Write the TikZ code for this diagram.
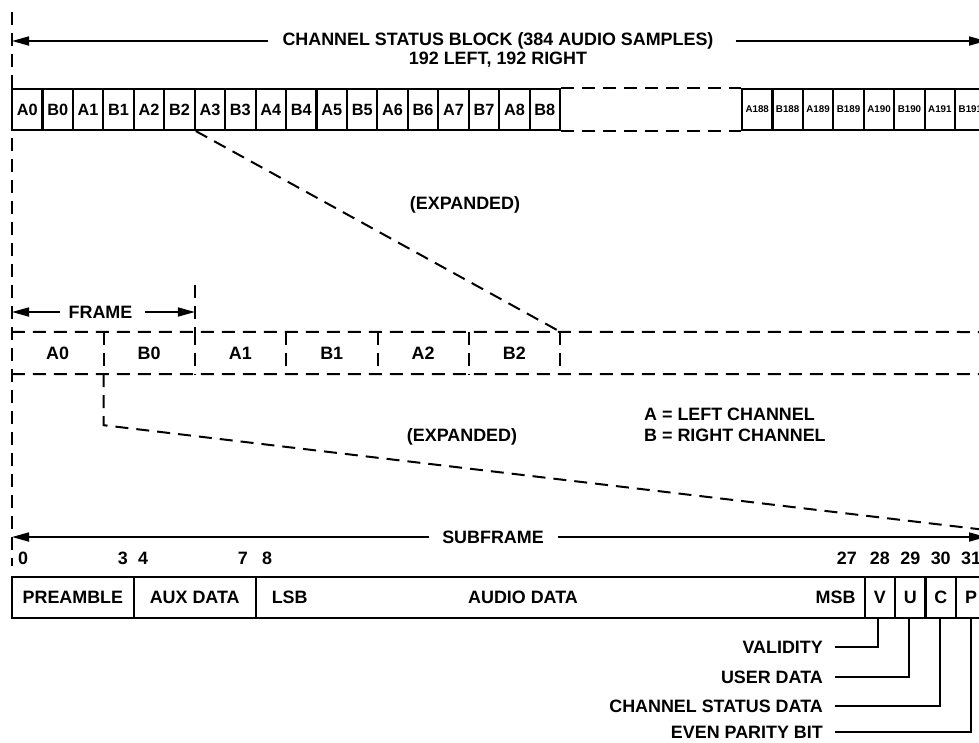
\documentclass[tikz,border=0pt]{standalone}
\usepackage{fontspec}
\setmainfont{Liberation Sans}[BoldFont={Liberation Sans Bold}]
\usetikzlibrary{arrows.meta}
\begin{document}
\begin{tikzpicture}[x=1pt,y=-1pt,
  every node/.style={font=\bfseries\fontsize{17.9}{20}\selectfont, inner sep=0pt},
  topbox/.style={draw, line width=2.1pt, minimum width=30.45pt, minimum height=41pt, font=\bfseries\fontsize{16.3}{18}\selectfont},
  smallbox/.style={topbox, font=\bfseries\fontsize{9.8}{11}\selectfont},
  framebox/.style={minimum width=91.35pt, minimum height=42pt},
  subbox/.style={draw, line width=2.1pt, minimum height=41pt},
  dashline/.style={line width=2pt, dash pattern=on 13pt off 8pt},
  arr/.style={line width=1.7pt, -{Triangle[length=17pt,width=9pt]}},
  lbl/.style={line width=1.7pt}
]
\useasboundingbox (0,0) rectangle (979,742);
\clip (0,0) rectangle (979,742);
\def\u{30.45}

% left dashed line
\coordinate (ltop) at (12,12);
\coordinate (lbot) at (12,566);
\draw[dashline] (ltop) -- (lbot);

% channel status block title
\node (cst) at (498,41) {CHANNEL STATUS BLOCK (384 AUDIO SAMPLES)};
\node (css) at (498,60) {192 LEFT, 192 RIGHT};
\coordinate (csL) at (12,41);
\coordinate (csR) at (986,41);
\draw[arr] ([xshift=-14pt]cst.west) -- (csL);
\draw[arr] ([xshift=22pt]cst.east) -- (csR);

% top row boxes
\foreach \i/\t in {0/A0,1/B0,2/A1,3/B1,4/A2,5/B2,6/A3,7/B3,8/A4,9/B4,10/A5,11/B5,12/A6,13/B6,14/A7,15/B7,16/A8,17/B8}
  \node[topbox] (t\i) at ({12+(\i+0.5)*\u},109.5) {\t};
\foreach \i/\t in {0/A188,1/B188,2/A189,3/B189,4/A190,5/B190,6/A191,7/B191}
  \node[smallbox] (s\i) at ({742+(\i+0.5)*\u},109.5) {\t};
\draw[dashline] (t17.north east) -- (s0.north west);
\draw[dashline] (t17.south east) -- (s0.south west);

% expanded label 1
\node (exp1) at (465,205) {(EXPANDED)};

% frame row
\foreach \i/\t in {0/A0,1/B0,2/A1,3/B1,4/A2,5/B2}
  \node[framebox] (f\i) at ({12+(\i+0.5)*3*\u},353) {\t};
\coordinate (frR1) at (995,332);
\coordinate (frR2) at (995,374);
\draw[dashline] (f0.north west) -- (frR1);
\draw[dashline] (f0.south west) -- (frR2);
\foreach \i in {0,...,5}
  \draw[dashline] (f\i.north east) -- (f\i.south east);

% frame arrow
\node (frm) at (100.5,312) {FRAME};
\coordinate (frmL) at (12,312);
\coordinate (frmR) at (f1.east |- frm);
\coordinate (frmT) at ([yshift=47pt]f1.north east);
\draw[dashline] (frmT) -- (f1.north east);
\draw[arr] ([xshift=-8pt]frm.west) -- (frmL);
\draw[arr] ([xshift=12pt]frm.east) -- (frmR);

% expansion 1
\draw[dashline] (t5.south east) -- (f5.north east);

% expansion 2
\coordinate (e2a) at ([yshift=-51pt]f0.south east);
\coordinate (e2b) at (986,530);
\draw[dashline] (f0.south east) -- (e2a) -- (e2b);
\node (exp2) at (462,437) {(EXPANDED)};

% legend
\node[anchor=west] (legA) at (644,414) {A = LEFT CHANNEL};
\node[anchor=west] (legB) at (644,435) {B = RIGHT CHANNEL};

% subframe arrow
\node (sf) at (493,537) {SUBFRAME};
\coordinate (sfL) at (12,537);
\coordinate (sfR) at (986,537);
\draw[arr] ([xshift=-13pt]sf.west) -- (sfL);
\draw[arr] ([xshift=14pt]sf.east) -- (sfR);

% bit numbers
\node[anchor=west] (n0) at (18,558) {0};
\node[anchor=east] (n3) at (128,558) {3};
\node[anchor=west] (n4) at (138,558) {4};
\node[anchor=east] (n7) at (248,558) {7};
\node[anchor=west] (n8) at (262,558) {8};
\node[anchor=east] (n27) at (857,558) {27};
\node (n28) at ({12+28.5*\u},558) {28};
\node (n29) at ({12+29.5*\u},558) {29};
\node (n30) at ({12+30.5*\u},558) {30};
\node (n31) at ({12+31.5*\u},558) {31};

% subframe boxes
\node[subbox, minimum width=121.8pt] (pre) at ({12+2*\u},597.5) {PREAMBLE};
\node[subbox, minimum width=121.8pt] (aux) at ({12+6*\u},597.5) {AUX DATA};
\node[subbox, minimum width=609pt] (aud) at ({12+18*\u},597.5) {};
\node[anchor=west] (lsb) at ([xshift=17pt]aud.west) {LSB};
\node (audt) at (523,597.5) {AUDIO DATA};
\node[anchor=east] (msb) at ([xshift=-10pt]aud.east) {MSB};
\node[subbox, minimum width=30.45pt] (bv) at ({12+28.5*\u},597.5) {V};
\node[subbox, minimum width=30.45pt] (bu) at ({12+29.5*\u},597.5) {U};
\node[subbox, minimum width=30.45pt] (bc) at ({12+30.5*\u},597.5) {C};
\node[subbox, minimum width=30.45pt] (bp) at ({12+31.5*\u},597.5) {P};

% bit labels
\node[anchor=east] (lv) at (823,647) {VALIDITY};
\node[anchor=east] (lu) at (823,677) {USER DATA};
\node[anchor=east] (lc) at (823,706) {CHANNEL STATUS DATA};
\node[anchor=east] (lp) at (823,732) {EVEN PARITY BIT};
\draw[lbl] ([xshift=12pt]lv.east) -| ([xshift=-2pt]bv.south);
\draw[lbl] ([xshift=12pt]lu.east) -| ([xshift=-1pt]bu.south);
\draw[lbl] ([xshift=12pt]lc.east) -| ([xshift=-1pt]bc.south);
\draw[lbl] ([xshift=12pt]lp.east) -| (bp.south);
\end{tikzpicture}
\end{document}
